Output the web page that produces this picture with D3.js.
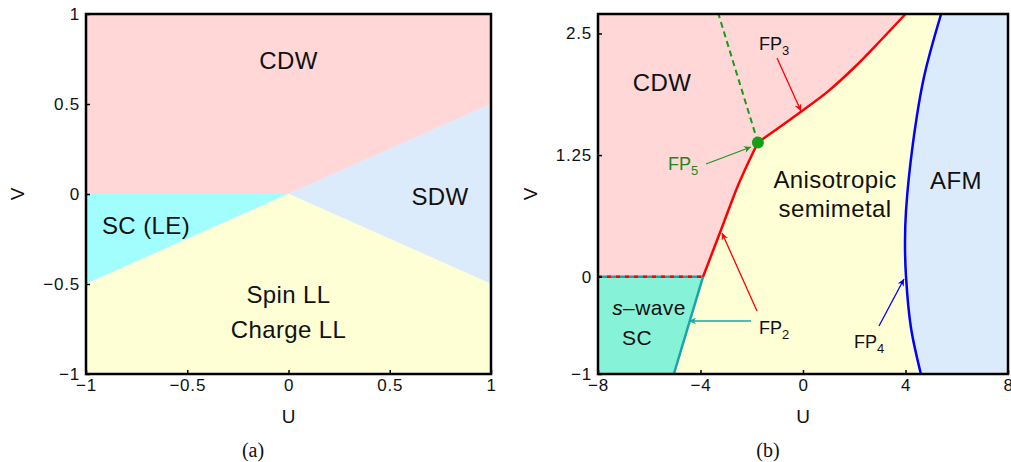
<!DOCTYPE html>
<html>
<head>
<meta charset="utf-8">
<script src="https://d3js.org/d3.v7.min.js"></script>
<style>
  body { margin: 0; background: #fff; }
  text { font-family: "Liberation Sans", Arial, sans-serif; fill: #111; }
  .tick text { font-size: 17px; letter-spacing: 0.8px; }
  .axis-title { font-size: 19px; }
  .phase { font-size: 24px; letter-spacing: 0.4px; }
  .fp { font-size: 18px; }
  .caption { font-family: "Liberation Serif", "DejaVu Serif", serif; font-size: 20px; }
</style>
</head>
<body>
<script>
// ---- panel (a) data: phase boundaries in (U, V)
const aXTicks = [-1, -0.5, 0, 0.5, 1];
const aYTicks = [-1, -0.5, 0, 0.5, 1];
const aCDW = [[-1, 1], [1, 1], [1, 0.5], [0, 0], [-1, 0]];
const aSDW = [[0, 0], [1, 0.5], [1, -0.5]];
const aSC = [[-1, 0], [0, 0], [-1, -0.5]];
const aLL = [[-1, -0.5], [0, 0], [1, -0.5], [1, -1], [-1, -1]];

// ---- panel (b) data
const bXTicks = [-8, -4, 0, 4, 8];
const bYTicks = [-1, 0, 1.25, 2.5];
const redLower = [[-3.9, 0], [-3.2, 0.48], [-2.5, 0.96], [-1.76, 1.38]];
const redUpper = [[-1.76, 1.38], [-1.0, 1.52], [0, 1.71], [1, 1.91], [2, 2.15], [3, 2.42], [4.0, 2.7]];
const greenDash = [[-1.76, 1.38], [-3.3, 2.7]];
const tealLine = [[-3.9, 0], [-5.04, -1]];
const blueCurve = [[4.6, -1], [4.21, -0.52], [4.02, 0], [3.98, 0.35], [4.02, 0.68], [4.29, 1.37], [4.72, 2.05], [5.39, 2.7]];
const fp5 = [-1.76, 1.38];

const fmt = d => String(d).replace("-", "\u2212");

const svg = d3.select("body").append("svg")
  .attr("width", 1011).attr("height", 462);

const defs = svg.append("defs");
function marker(id, color) {
  defs.append("marker").attr("id", id)
    .attr("viewBox", "0 0 10 10").attr("refX", 10).attr("refY", 5)
    .attr("markerWidth", 9).attr("markerHeight", 7)
    .attr("markerUnits", "userSpaceOnUse")
    .attr("orient", "auto")
    .append("path").attr("d", "M0,0 L10,5 L0,10 L3,5 Z").attr("fill", color);
}
marker("arRed", "#ff0000");
marker("arGreen", "#1a9a1a");
marker("arTeal", "#1aa5a5");
marker("arBlue", "#0000ff");

function frame(g, x, y, xt, yt) {
  const [x0, x1] = x.range(), [y0, y1] = y.range();
  g.append("g").attr("transform", `translate(0,${y0})`)
    .call(d3.axisBottom(x).tickValues(xt).tickFormat(fmt).tickSizeInner(-4).tickSizeOuter(0).tickPadding(5))
    .call(a => a.select(".domain").remove());
  g.append("g").attr("transform", `translate(${x0},0)`)
    .call(d3.axisLeft(y).tickValues(yt).tickFormat(fmt).tickSizeInner(-4).tickSizeOuter(0).tickPadding(6))
    .call(a => a.select(".domain").remove());
  g.selectAll(".tick line").attr("stroke", "#000").attr("stroke-width", 1.5);
  g.selectAll(".tick text").attr("fill", "#111");
  g.append("rect").attr("x", x0).attr("y", y1).attr("width", x1 - x0).attr("height", y0 - y1)
    .attr("fill", "none").attr("stroke", "#000").attr("stroke-width", 2.5);
  g.append("text").attr("class", "axis-title").attr("x", (x0 + x1) / 2).attr("y", 423)
    .attr("text-anchor", "middle").text("U");
}

// ---------------- panel (a)
const xa = d3.scaleLinear().domain([-1, 1]).range([86, 491]);
const ya = d3.scaleLinear().domain([-1, 1]).range([374, 14]);
const ga = svg.append("g");
const lineA = d3.line().x(d => xa(d[0])).y(d => ya(d[1]));
[[aCDW, "#ffd7d7"], [aSDW, "#dcebfc"], [aSC, "#a2fdfd"], [aLL, "#ffffd6"]].forEach(([p, c]) => {
  ga.append("path").attr("d", lineA(p) + "Z").attr("fill", c).attr("stroke", c).attr("stroke-width", 0.5);
});
frame(ga, xa, ya, aXTicks, aYTicks);
ga.append("text").attr("class", "axis-title").attr("transform", "translate(24,194) rotate(-90)")
  .attr("text-anchor", "middle").text("V");
ga.append("text").attr("class", "phase").attr("x", xa(0)).attr("y", 69).attr("text-anchor", "middle").text("CDW");
ga.append("text").attr("class", "phase").attr("x", 440).attr("y", 205).attr("text-anchor", "middle").text("SDW");
ga.append("text").attr("class", "phase").attr("x", 146).attr("y", 234).attr("text-anchor", "middle").text("SC (LE)");
ga.append("text").attr("class", "phase").attr("x", xa(0)).attr("y", 303).attr("text-anchor", "middle").text("Spin LL");
ga.append("text").attr("class", "phase").attr("x", xa(0)).attr("y", 338).attr("text-anchor", "middle").text("Charge LL");
ga.append("text").attr("class", "caption").attr("x", 253).attr("y", 457).attr("text-anchor", "middle").text("(a)");

// ---------------- panel (b)
const xb = d3.scaleLinear().domain([-8, 8]).range([598, 1008]);
const yb = d3.scaleLinear().domain([-1, 2.7]).range([374, 14]);
const gb = svg.append("g");
const lineB = d3.line().x(d => xb(d[0])).y(d => yb(d[1]));
const curveB = d3.line().x(d => xb(d[0])).y(d => yb(d[1])).curve(d3.curveCatmullRom);

// background yellow, then regions
gb.append("path").attr("d", lineB([[-8, -1], [8, -1], [8, 2.7], [-8, 2.7]]) + "Z").attr("fill", "#ffffd6");
const cdwPoly = [[-8, 0]].concat(redLower, redUpper.slice(1), [[-8, 2.7]]);
gb.append("path").attr("d", lineB(cdwPoly) + "Z").attr("fill", "#ffd7d7");
const scPoly = [[-8, 0], tealLine[0], tealLine[1], [-8, -1]];
gb.append("path").attr("d", lineB(scPoly) + "Z").attr("fill", "#86f3d9");
gb.append("path").attr("d", curveB(blueCurve) + lineB([[8, 2.7], [8, -1]]).replace("M", "L") + "Z").attr("fill", "#dcebfc");

// boundaries
gb.append("path").attr("d", lineB([[-8, 0], tealLine[0]])).attr("stroke", "#1aa5a5").attr("stroke-width", 2.5).attr("fill", "none");
gb.append("path").attr("d", lineB([[-8, 0], tealLine[0]])).attr("stroke", "#ff0000").attr("stroke-width", 2.5)
  .attr("stroke-dasharray", "4,5").attr("fill", "none");
gb.append("path").attr("d", lineB(tealLine)).attr("stroke", "#1aa5a5").attr("stroke-width", 2.5).attr("fill", "none");
gb.append("path").attr("d", curveB(redLower)).attr("stroke", "#ff0000").attr("stroke-width", 2.5).attr("fill", "none");
gb.append("path").attr("d", curveB(redUpper)).attr("stroke", "#ff0000").attr("stroke-width", 2.5).attr("fill", "none");
gb.append("path").attr("d", lineB(greenDash)).attr("stroke", "#1a9a1a").attr("stroke-width", 2)
  .attr("stroke-dasharray", "6,4").attr("fill", "none");
gb.append("path").attr("d", curveB(blueCurve)).attr("stroke", "#0000ff").attr("stroke-width", 2.5).attr("fill", "none");
gb.append("circle").attr("cx", xb(fp5[0])).attr("cy", yb(fp5[1])).attr("r", 6).attr("fill", "#14a014");

frame(gb, xb, yb, bXTicks, bYTicks);
gb.append("text").attr("class", "axis-title").attr("transform", "translate(537,194) rotate(-90)")
  .attr("text-anchor", "middle").text("V");

// labels
gb.append("text").attr("class", "phase").attr("x", 662).attr("y", 91).attr("text-anchor", "middle").text("CDW");
gb.append("text").attr("class", "phase").attr("x", 835).attr("y", 188).attr("text-anchor", "middle").text("Anisotropic");
gb.append("text").attr("class", "phase").attr("x", 835).attr("y", 217).attr("text-anchor", "middle").text("semimetal");
gb.append("text").attr("class", "phase").attr("x", 956).attr("y", 189).attr("text-anchor", "middle").text("AFM");
const sw = gb.append("text").attr("class", "phase").attr("x", 649).attr("y", 315).attr("text-anchor", "middle").style("font-size", "21px");
sw.append("tspan").attr("font-style", "italic").text("s");
sw.append("tspan").text("\u2013wave");
gb.append("text").attr("class", "phase").attr("x", 637).attr("y", 345).attr("text-anchor", "middle").style("font-size", "21px").text("SC");

function fpLabel(x, y, n, color) {
  const t = gb.append("text").attr("class", "fp").attr("x", x).attr("y", y).style("fill", color);
  t.append("tspan").text("FP");
  t.append("tspan").attr("dy", 5).style("font-size", "13px").text(n);
}
fpLabel(759, 50, "3", "#111");
fpLabel(668, 170, "5", "#1a8a1a");
fpLabel(759, 334, "2", "#111");
fpLabel(854, 348, "4", "#111");

function arrow(p, q, color, id) {
  gb.append("line").attr("x1", p[0]).attr("y1", p[1]).attr("x2", q[0]).attr("y2", q[1])
    .attr("stroke", color).attr("stroke-width", 1.3).attr("marker-end", `url(#${id})`);
}
arrow([777, 58], [801, 111], "#ff0000", "arRed");
arrow([706, 164], [751, 147], "#1a9a1a", "arGreen");
arrow([757, 311], [722, 233], "#ff0000", "arRed");
arrow([751, 321], [689, 321], "#1aa5a5", "arTeal");
arrow([879, 326], [904, 279], "#0000ff", "arBlue");

gb.append("text").attr("class", "caption").attr("x", 768).attr("y", 457).attr("text-anchor", "middle").text("(b)");
</script>
</body>
</html>
